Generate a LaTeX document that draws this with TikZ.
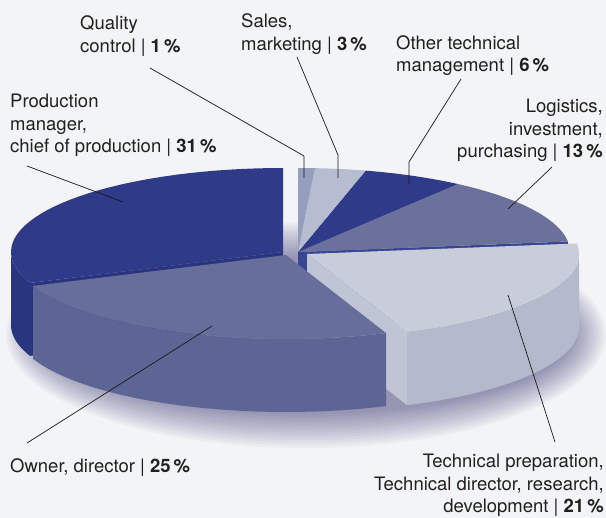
\documentclass[tikz,border=0pt]{standalone}
\usepackage{fontspec}
\setmainfont{TeX Gyre Heros}
\usetikzlibrary{positioning}

\definecolor{bggray}{RGB}{243,244,246}
\definecolor{c31}{RGB}{47,59,136}
\definecolor{c31side}{RGB}{42,53,127}
\definecolor{c1}{RGB}{150,158,190}
\definecolor{c3}{RGB}{183,189,208}
\definecolor{c6}{RGB}{47,59,136}
\definecolor{c13}{RGB}{107,113,155}
\definecolor{c13side}{RGB}{55,70,145}
\definecolor{c21}{RGB}{201,205,218}
\definecolor{c21side}{RGB}{180,185,203}
\definecolor{c21face}{RGB}{192,197,213}
\definecolor{c25}{RGB}{103,110,155}
\definecolor{c25side}{RGB}{93,101,149}
\definecolor{labeltext}{RGB}{35,31,32}

\tikzset
{
    slicelabel/.style = {align=left, inner sep=0pt, text=labeltext},
    leaderline/.style = {draw=black!90, line width=0.7pt},
    shadowring/.style = {fill=black!70!blue, opacity=0.03}
}

% pie radii and height
\newcommand{\pieA}{272}
\newcommand{\pieB}{84}
\newcommand{\pieH}{73}
% #1,#2 centre, #3,#4 angles, #5 colour
\newcommand{\slicetop}[5]{\fill[#5] (#1,#2) -- plot[domain=#3:#4, samples=40] ({#1+\pieA*cos(\x)},{#2-\pieB*sin(\x)}) -- cycle;}
\newcommand{\sliceside}[5]{\fill[#5] plot[domain=#3:#4, samples=40] ({#1+\pieA*cos(\x)},{#2-\pieB*sin(\x)}) -- plot[domain=#4:#3, samples=40] ({#1+\pieA*cos(\x)},{#2+\pieH-\pieB*sin(\x)}) -- cycle;}
\newcommand{\sliceface}[4]{\fill[#4] (#1,#2) -- ({#1+\pieA*cos(#3)},{#2-\pieB*sin(#3)}) -- ++(0,\pieH) -- (#1,{#2+\pieH}) -- cycle;}

\begin{document}
\begin{tikzpicture}
	[x=1pt, y=-1pt, font=\fontsize{18.5}{22.5}\selectfont, line join=round]
	\useasboundingbox (0,0) rectangle (606,518);
	\fill[bggray] (0,0) rectangle (606,518);
	% soft shadow
	\foreach \i in {0,...,13}
		\fill[shadowring] (306,335) ellipse [x radius={300-2.6*\i}, y radius={113-2.6*\i}];

	% production 31%
	\sliceside{283}{252}{180}{201.6}{c31side}
	\sliceface{283}{252}{201.6}{c31side}
	\slicetop{283}{252}{90}{201.6}{c31}
	% back slices
	\sliceface{298}{252}{7.2}{c13side}
	\slicetop{298}{252}{7.2}{54}{c13}
	\slicetop{298}{252}{54}{75.6}{c6}
	\slicetop{298}{252}{75.6}{86.4}{c3}
	\slicetop{298}{252}{86.4}{90}{c1}
	% technical 21%
	\sliceface{307}{254}{291.6}{c21face}
	\sliceside{307}{254}{291.6}{360}{c21side}
	\slicetop{307}{254}{291.6}{367.2}{c21}
	% owner 25%
	\sliceside{286}{255}{201.6}{291.6}{c25side}
	\slicetop{286}{255}{201.6}{291.6}{c25}

	\node[slicelabel, anchor=north west] (quality) at (80,15.5) {Quality\\control | \textbf{1\,\%}};
	\node[slicelabel, anchor=north west] (sales) at (241,13.5) {Sales,\\marketing | \textbf{3\,\%}};
	\node[slicelabel, anchor=north west] (othertech) at (396,35) {Other technical\\management | \textbf{6\,\%}};
	\node[slicelabel, align=right, anchor=north east] (logistics) at (603,99) {Logistics,\\investment,\\purchasing | \textbf{13\,\%}};
	\node[slicelabel, anchor=north west] (production) at (10,94) {Production\\manager,\\chief of production | \textbf{31\,\%}};
	\node[slicelabel, anchor=north west] (owner) at (10,458) {Owner, director | \textbf{25\,\%}};
	\node[slicelabel, align=right, anchor=north east] (technical) at (604,454) {Technical preparation,\\Technical director, research,\\development | \textbf{21\,\%}};

	\coordinate (qc-bend) at (304,156);
	\coordinate (qc-end) at (304,178);
	\coordinate (sm-bend) at (338,155);
	\coordinate (sm-end) at (338,178);
	\coordinate (ot-bend) at (409,162);
	\coordinate (ot-end) at (409,184);
	\coordinate (lg-end) at (508,209);
	\coordinate (pr-end) at (123,202);
	\coordinate (ow-end) at (212,326);
	\coordinate (tc-end) at (508,295);

	\draw[leaderline] ([shift={(70,52.5)}]quality.north west) -- (qc-bend) -- (qc-end);
	\draw[leaderline] ([shift={(56,43.5)}]sales.north west) -- (sm-bend) -- (sm-end);
	\draw[leaderline] ([shift={(65,44)}]othertech.north west) -- (ot-bend) -- (ot-end);
	\draw[leaderline] ([shift={(-51,68)}]logistics.north east) -- (lg-end);
	\draw[leaderline] ([shift={(17,72)}]production.north west) -- (pr-end);
	\draw[leaderline] ([shift={(17,-15)}]owner.north west) -- (ow-end);
	\draw[leaderline] ([shift={(-49,-12)}]technical.north east) -- (tc-end);
\end{tikzpicture}
\end{document}
